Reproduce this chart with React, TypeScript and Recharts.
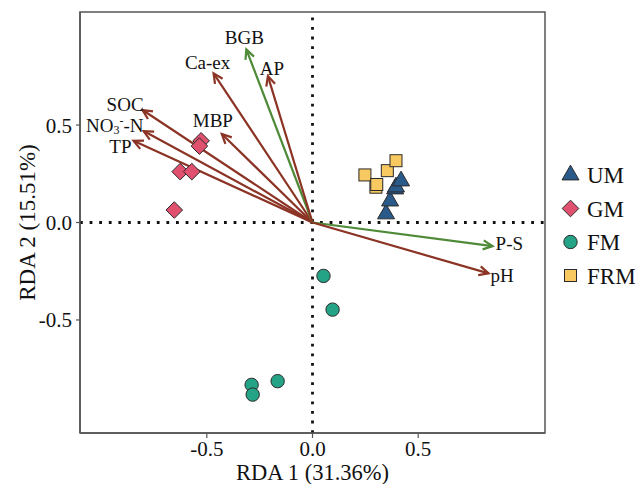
import React from 'react';
import { ScatterChart, Scatter, XAxis, YAxis, ReferenceLine, ReferenceArea } from 'recharts';

// ---------- data ----------
const groupNames = ['UM', 'GM', 'FM', 'FRM'];

const umX = [0.348, 0.367, 0.391, 0.395, 0.419];
const umY = [0.044, 0.110, 0.172, 0.182, 0.213];

const gmX = [-0.527, -0.535, -0.626, -0.571, -0.654];
const gmY = [0.419, 0.392, 0.261, 0.261, 0.064];

const fmX = [0.052, 0.095, -0.165, -0.288, -0.283];
const fmY = [-0.274, -0.447, -0.814, -0.833, -0.883];

const frmX = [0.248, 0.300, 0.304, 0.354, 0.395];
const frmY = [0.244, 0.181, 0.195, 0.266, 0.317];

const arrowNames = ['SOC', 'NO3-N', 'TP', 'MBP', 'Ca-ex', 'BGB', 'AP', 'P-S', 'pH'];
const arrowX = [-0.804, -0.799, -0.847, -0.429, -0.468, -0.313, -0.211, 0.852, 0.833];
const arrowY = [0.577, 0.469, 0.419, 0.454, 0.765, 0.888, 0.751, -0.121, -0.261];
const arrowKind = ['soil', 'soil', 'soil', 'soil', 'soil', 'plant', 'soil', 'plant', 'soil'];

const xTicks = [-0.5, 0, 0.5];
const yTicks = [-0.5, 0, 0.5];

const xTitle = 'RDA 1 (31.36%)';
const yTitle = 'RDA 2 (15.51%)';

// ---------- styles ----------
const FONT = "'Liberation Serif', 'Times New Roman', serif";
const groupColors: Record<string, string> = {
  UM: '#2A5A8A',
  GM: '#E0506F',
  FM: '#25A386',
  FRM: '#F8C961',
};
const kindColors: Record<string, string> = { soil: '#8B3324', plant: '#4F8A38' };
const labelPos: Record<string, { anchor: string; dx: number; dy: number }> = {
  SOC: { anchor: 'end', dx: 1, dy: 1 },
  'NO3-N': { anchor: 'end', dx: 0, dy: 1 },
  TP: { anchor: 'end', dx: -2, dy: 12 },
  MBP: { anchor: 'middle', dx: -9, dy: -7 },
  'Ca-ex': { anchor: 'middle', dx: -6, dy: -4 },
  BGB: { anchor: 'middle', dx: -2, dy: -5 },
  AP: { anchor: 'middle', dx: 4, dy: -1 },
  'P-S': { anchor: 'start', dx: 3, dy: 4 },
  pH: { anchor: 'start', dx: 2, dy: 9 },
};

const toPts = (xs: number[], ys: number[]) => xs.map((x, i) => ({ x, y: ys[i] }));
const seriesData: Record<string, { x: number; y: number }[]> = {
  UM: toPts(umX, umY),
  GM: toPts(gmX, gmY),
  FM: toPts(fmX, fmY),
  FRM: toPts(frmX, frmY),
};

const MARK_STROKE = '#2a2a2a';

function markerPath(group: string, cx: number, cy: number) {
  const fill = groupColors[group];
  if (group === 'UM') {
    const s = 17;
    const h = (s * Math.sqrt(3)) / 2;
    const pts = `${cx},${cy - (2 * h) / 3} ${cx - s / 2},${cy + h / 3} ${cx + s / 2},${cy + h / 3}`;
    return <polygon points={pts} fill={fill} stroke={MARK_STROKE} strokeWidth={1} />;
  }
  if (group === 'GM') {
    const r = 8.3;
    const pts = `${cx},${cy - r} ${cx + r},${cy} ${cx},${cy + r} ${cx - r},${cy}`;
    return <polygon points={pts} fill={fill} stroke={MARK_STROKE} strokeWidth={1} />;
  }
  if (group === 'FM') {
    return <circle cx={cx} cy={cy} r={6.7} fill={fill} stroke={MARK_STROKE} strokeWidth={1} />;
  }
  const s = 12;
  return <rect x={cx - s / 2} y={cy - s / 2} width={s} height={s} fill={fill} stroke={MARK_STROKE} strokeWidth={1} />;
}

function ArrowLabel({ name, x, y, anchor }: { name: string; x: number; y: number; anchor: string }) {
  if (name === 'NO3-N') {
    return (
      <text x={x} y={y} textAnchor={anchor as any} fontFamily={FONT} fontSize={19} fill="#111">
        <tspan>NO</tspan>
        <tspan fontSize={12} dy={2}>3</tspan>
        <tspan fontSize={12} dy={-9}>-</tspan>
        <tspan dy={7}>-N</tspan>
      </text>
    );
  }
  return (
    <text x={x} y={y} textAnchor={anchor as any} fontFamily={FONT} fontSize={19} fill="#111">
      {name}
    </text>
  );
}

function makeArrowShape(name: string, color: string) {
  return (p: any) => {
    const { x1, y1, x2, y2 } = p;
    const ang = Math.atan2(y2 - y1, x2 - x1);
    const L = 10.5;
    const a = Math.PI / 7;
    const h1x = x2 - L * Math.cos(ang - a);
    const h1y = y2 - L * Math.sin(ang - a);
    const h2x = x2 - L * Math.cos(ang + a);
    const h2y = y2 - L * Math.sin(ang + a);
    const lp = labelPos[name];
    return (
      <g>
        <line x1={x1} y1={y1} x2={x2} y2={y2} stroke={color} strokeWidth={2.2} />
        <polyline
          points={`${h1x},${h1y} ${x2},${y2} ${h2x},${h2y}`}
          fill="none"
          stroke={color}
          strokeWidth={2.2}
          strokeLinejoin="miter"
        />
        <ArrowLabel name={name} x={x2 + lp.dx} y={y2 + lp.dy} anchor={lp.anchor} />
      </g>
    );
  };
}

const W = 630;
const H = 476;

export default function App() {
  return (
    <div style={{ position: 'absolute', left: 8, top: 8, width: W, height: H }}>
      <ScatterChart width={W} height={H} margin={{ top: 4, right: 93, bottom: 0, left: 0 }}>
        <XAxis
          type="number"
          dataKey="x"
          domain={[-1.1, 1.1]}
          allowDataOverflow
          ticks={xTicks}
          tickFormatter={(v: number) => v.toFixed(1)}
          tick={{ fontFamily: FONT, fontSize: 21, fill: '#111' }}
          tickSize={5}
          tickMargin={3}
          height={51}
          stroke="#555"
          axisLine={{ stroke: '#555', strokeWidth: 1.5 }}
          tickLine={{ stroke: '#555', strokeWidth: 1.2 }}
          label={{
            value: xTitle,
            position: 'insideBottom',
            offset: 4,
            style: { fontFamily: FONT, fontSize: 22.5, fill: '#111' },
          }}
        />
        <YAxis
          type="number"
          dataKey="y"
          domain={[-1.08, 1.08]}
          allowDataOverflow
          ticks={yTicks}
          tickFormatter={(v: number) => v.toFixed(1)}
          tick={{ fontFamily: FONT, fontSize: 21, fill: '#111' }}
          tickSize={4}
          tickMargin={4}
          width={72}
          stroke="#555"
          axisLine={{ stroke: '#555', strokeWidth: 1.5 }}
          tickLine={{ stroke: '#555', strokeWidth: 1.2 }}
          label={{
            value: yTitle,
            angle: -90,
            position: 'insideLeft',
            offset: 19,
            style: { fontFamily: FONT, fontSize: 23, fill: '#111', textAnchor: 'middle' },
          }}
        />
        <ReferenceArea
          x1={-1.1}
          x2={1.1}
          y1={-1.08}
          y2={1.08}
          fill="none"
          fillOpacity={0}
          stroke="#555"
          strokeWidth={1.5}
          ifOverflow="visible"
        />
        <ReferenceLine x={0} stroke="#111" strokeWidth={2.8} strokeDasharray="2.8 6.8" />
        <ReferenceLine y={0} stroke="#111" strokeWidth={2.8} strokeDasharray="2.8 6.8" />
        {arrowNames.map((name, i) => (
          <ReferenceLine
            key={name}
            segment={[
              { x: 0, y: 0 },
              { x: arrowX[i], y: arrowY[i] },
            ]}
            stroke={kindColors[arrowKind[i]]}
            ifOverflow="visible"
            shape={makeArrowShape(name, kindColors[arrowKind[i]])}
          />
        ))}
        {groupNames.map((g) => (
          <Scatter
            key={g}
            name={g}
            data={seriesData[g]}
            isAnimationActive={false}
            shape={(p: any) => markerPath(g, p.cx, p.cy)}
          />
        ))}
      </ScatterChart>
      <svg
        width={W}
        height={H}
        style={{ position: 'absolute', left: 0, top: 0, pointerEvents: 'none' }}
      >
        {groupNames.map((g, i) => {
          const cy = 167 + i * 33.5;
          return (
            <g key={g}>
              {markerPath(g, 562.5, cy)}
              <text x={579} y={cy + 8} fontFamily={FONT} fontSize={23} fill="#111">
                {g}
              </text>
            </g>
          );
        })}
      </svg>
    </div>
  );
}
